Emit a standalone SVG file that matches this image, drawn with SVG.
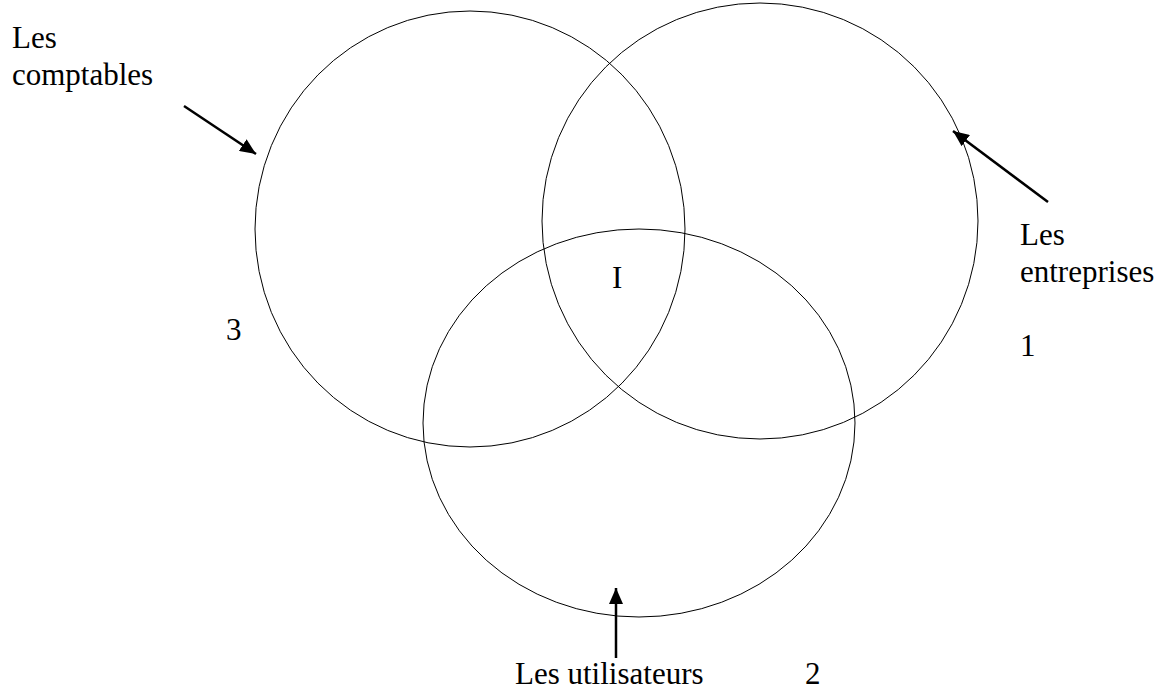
<svg xmlns="http://www.w3.org/2000/svg" width="1163" height="690" viewBox="0 0 1163 690">
<style>
.c{fill:none;stroke:#000;stroke-width:1}
.a{fill:none;stroke:#000;stroke-width:2.5}
text{font-family:"Liberation Serif","Times New Roman",serif;font-size:31px;fill:#000}
</style>
<defs>
<marker id="ah" markerWidth="16" markerHeight="14" refX="16" refY="7" orient="auto" markerUnits="userSpaceOnUse" viewBox="0 0 16 14">
<path d="M0,0 L16,7 L0,14 z" fill="#000"/>
</marker>
</defs>
<rect width="1163" height="690" fill="#fff"/>
<g id="comptables">
<ellipse class="c" cx="470" cy="229" rx="215" ry="218"/>
<text x="12" y="48">Les</text>
<text x="12" y="85">comptables</text>
<text x="226" y="340">3</text>
</g>
<g id="entreprises">
<ellipse class="c" cx="760" cy="221" rx="218" ry="218"/>
<text x="1020" y="245">Les</text>
<text x="1020" y="282">entreprises</text>
<text x="1020" y="356">1</text>
</g>
<g id="utilisateurs">
<ellipse class="c" cx="639" cy="423" rx="216" ry="194"/>
<text x="515" y="684">Les utilisateurs</text>
<text x="805" y="684">2</text>
</g>
<g id="intersection">
<text x="612" y="288">I</text>
</g>
<g id="connectors">
<line class="a" x1="184" y1="106" x2="256" y2="154" marker-end="url(#ah)"/>
<line class="a" x1="1048" y1="202" x2="953" y2="131" marker-end="url(#ah)"/>
<line class="a" x1="616" y1="658" x2="616" y2="588" marker-end="url(#ah)"/>
</g>
</svg>
